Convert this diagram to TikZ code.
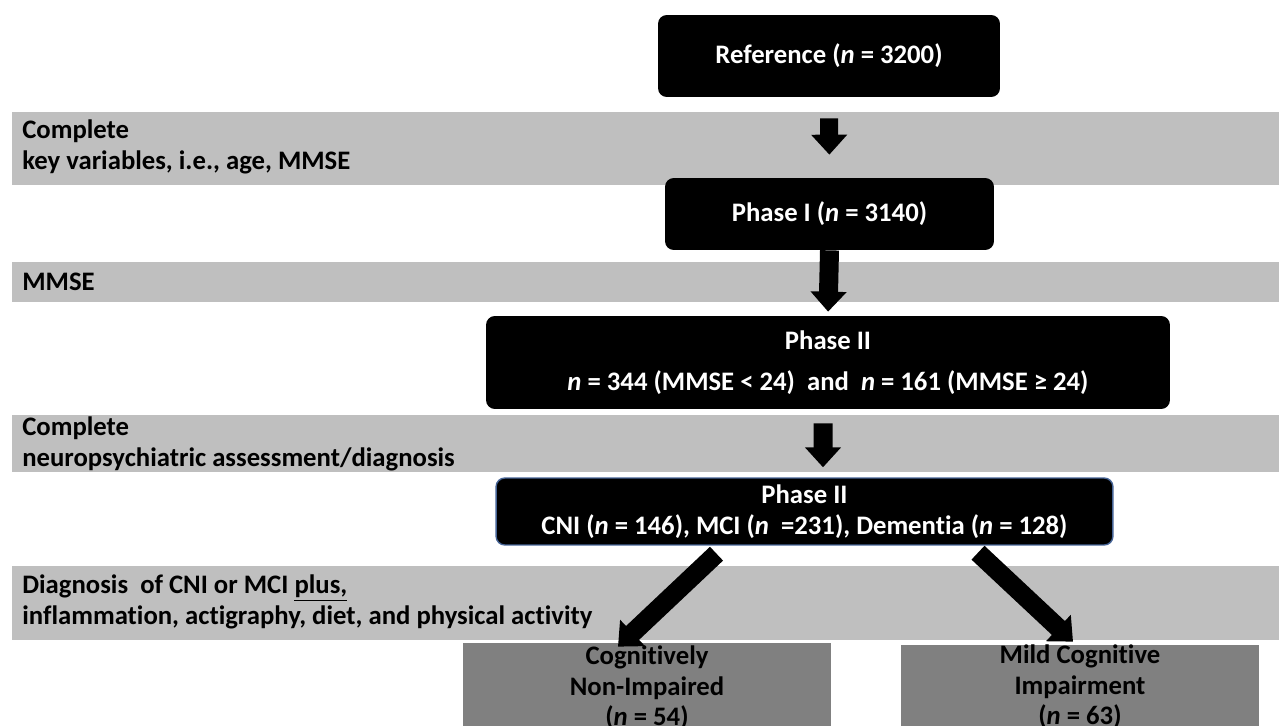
\documentclass[tikz,border=0pt]{standalone}
\usepackage{fontspec}
\setmainfont[Ligatures=NoCommon]{Carlito}
\usepackage{tikz}
\usetikzlibrary{arrows.meta, calc, positioning}

\begin{document}
\begin{tikzpicture}[x=0.02cm, y=-0.02cm,
        every node/.style={font=\bfseries\fontsize{15.2}{17.3}\selectfont},
        darkbox/.style={fill=black, text=white, rounded corners=5pt, align=center, inner sep=0pt},
        greybox/.style={fill=black!50, text=black, align=center, inner sep=0pt},
        bandtext/.style={anchor=west, align=left, text=black, inner sep=0pt},
        blockarrow/.style={line width=0.38cm, -{Triangle[width=0.7cm,length=0.4cm]}}]

            \useasboundingbox (0,0) rectangle (1279,726);

            % Grey bands
            \fill[black!25] (12,112) rectangle (1279,185);
            \fill[black!25] (12,262) rectangle (1279,302);
            \fill[black!25] (12,415) rectangle (1279,472);
            \fill[black!25] (12,566) rectangle (1279,640);

            % Band labels
            \node[bandtext] (lab1) at (22,147) {Complete\\key variables,\ i.e.,\ age, MMSE};
            \node[bandtext] (lab2) at (22,282) {MMSE};
            \node[bandtext] (lab3) at (22,444) {Complete\\neuropsychiatric assessment/diagnosis};
            \node[bandtext] (lab4) at (22,602) {Diagnosis\ \ of CNI or MCI \underline{plus,}\\inflammation,\ actigraphy,\ diet,\ and\ physical activity};

            % Boxes
            \node[darkbox, minimum width=6.84cm, minimum height=1.64cm] (ref) at (829,56) {Reference (\textit{n} = 3200)};
            \node[darkbox, minimum width=6.58cm, minimum height=1.44cm] (p1) at (829.5,214) {Phase I (\textit{n} = 3140)};
            \node[darkbox, minimum width=13.68cm, minimum height=1.86cm] (p2) at (828,362.5) {Phase II\\[6pt]\textit{n} = 344 (MMSE < 24)\ \ and\ \ \textit{n} = 161 (MMSE ≥ 24)};
            \node[darkbox, draw={rgb,255:red,70;green,100;blue,150}, line width=0.8pt, minimum width=12.34cm, minimum height=1.34cm] (p3) at (804.5,511.5) {Phase II\\CNI (\textit{n} = 146), MCI (\textit{n}\ \ =231), Dementia (\textit{n} = 128)};
            \node[greybox, minimum width=7.36cm, minimum height=1.8cm] (cni) at (647,688) {Cognitively\\Non-Impaired\\(\textit{n} = 54)};
            \node[greybox, minimum width=7.16cm, minimum height=1.68cm] (mci) at (1080,687) {Mild Cognitive\\Impairment\\(\textit{n} = 63)};

            % Arrows
            \draw[blockarrow, line width=0.36cm, shorten <=0.42cm, shorten >=0.46cm] (ref.south) -- (p1.north);
            \draw[blockarrow, shorten >=0.08cm] (p1.south) -- (p2.north);
            \draw[blockarrow, shorten <=0.28cm, shorten >=0.2cm] ([xshift=-0.1cm]p2.south) -- ([xshift=0.37cm]p3.north);
            \draw[blockarrow] ([shift={(-88,8)}]p3.south) -- ([shift={(-29,4)}]cni.north);
            \draw[blockarrow] ([shift={(173.5,7)}]p3.south) -- ([shift={(-7,-3)}]mci.north);

\end{tikzpicture}
\end{document}
